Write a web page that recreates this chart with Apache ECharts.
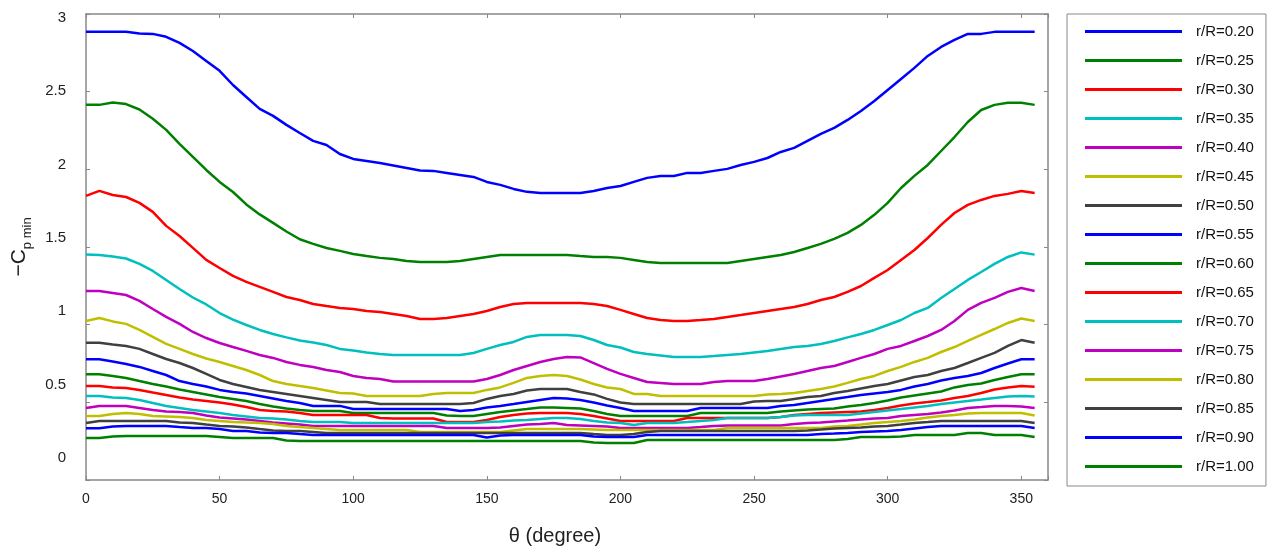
<!DOCTYPE html>
<html>
<head>
<meta charset="utf-8">
<script src="https://cdn.jsdelivr.net/npm/echarts@6/dist/echarts.min.js"></script>
<style>
  html, body { margin: 0; padding: 0; background: #fff; }
  #chart { width: 1277px; height: 549px; }
</style>
</head>
<body>
<div id="chart"></div>
<script>
// Azimuthal positions (degrees)
const theta = [0,5,10,15,20,25,30,35,40,45,50,55,60,65,70,75,80,85,90,95,100,105,110,115,120,125,130,135,140,145,150,155,160,165,170,175,180,185,190,195,200,205,210,215,220,225,230,235,240,245,250,255,260,265,270,275,280,285,290,295,300,305,310,315,320,325,330,335,340,345,350,355];

// Radial stations
const stations = ['r/R=0.20','r/R=0.25','r/R=0.30','r/R=0.35','r/R=0.40','r/R=0.45','r/R=0.50','r/R=0.55','r/R=0.60','r/R=0.65','r/R=0.70','r/R=0.75','r/R=0.80','r/R=0.85','r/R=0.90','r/R=1.00'];

// -Cp,min at each azimuth, one array per station
const cp020 = [2.885,2.885,2.885,2.885,2.875,2.872,2.853,2.814,2.762,2.698,2.634,2.543,2.466,2.389,2.344,2.286,2.234,2.183,2.157,2.099,2.067,2.054,2.041,2.025,2.009,1.993,1.990,1.977,1.964,1.951,1.919,1.900,1.874,1.855,1.848,1.848,1.848,1.848,1.861,1.880,1.893,1.919,1.945,1.957,1.957,1.977,1.977,1.990,2.003,2.028,2.048,2.073,2.112,2.138,2.183,2.228,2.267,2.318,2.376,2.440,2.511,2.582,2.653,2.730,2.788,2.833,2.872,2.872,2.885,2.885,2.885,2.885];
const cp025 = [2.415,2.415,2.43,2.42,2.385,2.326,2.254,2.164,2.08,1.996,1.919,1.854,1.774,1.71,1.655,1.6,1.55,1.52,1.494,1.475,1.455,1.442,1.43,1.423,1.41,1.404,1.404,1.404,1.41,1.423,1.436,1.449,1.449,1.449,1.449,1.449,1.449,1.442,1.436,1.436,1.43,1.417,1.404,1.397,1.397,1.397,1.397,1.397,1.397,1.41,1.423,1.436,1.449,1.468,1.494,1.52,1.552,1.591,1.642,1.707,1.784,1.88,1.958,2.028,2.118,2.208,2.305,2.382,2.415,2.428,2.428,2.415];
const cp030 = [1.829,1.861,1.835,1.822,1.784,1.726,1.636,1.571,1.494,1.417,1.365,1.314,1.275,1.243,1.211,1.178,1.159,1.133,1.120,1.108,1.101,1.088,1.082,1.069,1.056,1.037,1.037,1.043,1.056,1.069,1.088,1.114,1.133,1.140,1.140,1.140,1.140,1.140,1.133,1.120,1.095,1.069,1.043,1.030,1.024,1.024,1.030,1.037,1.05,1.062,1.075,1.088,1.101,1.114,1.133,1.159,1.178,1.211,1.249,1.301,1.352,1.417,1.481,1.558,1.642,1.719,1.771,1.803,1.829,1.842,1.861,1.848];
const cp035 = [1.451,1.449,1.439,1.426,1.391,1.346,1.288,1.23,1.175,1.13,1.075,1.033,0.998,0.966,0.94,0.918,0.898,0.885,0.869,0.844,0.834,0.821,0.811,0.805,0.805,0.805,0.805,0.805,0.805,0.818,0.844,0.869,0.889,0.921,0.934,0.934,0.934,0.927,0.901,0.869,0.853,0.824,0.811,0.802,0.792,0.792,0.792,0.798,0.805,0.811,0.821,0.831,0.844,0.856,0.863,0.876,0.895,0.918,0.94,0.966,0.998,1.03,1.075,1.108,1.172,1.23,1.288,1.339,1.391,1.436,1.465,1.451];
const cp040 = [1.217,1.217,1.204,1.191,1.153,1.101,1.05,1.005,0.953,0.914,0.882,0.856,0.831,0.805,0.786,0.76,0.741,0.728,0.708,0.695,0.67,0.657,0.65,0.634,0.634,0.634,0.634,0.634,0.634,0.634,0.65,0.676,0.708,0.734,0.76,0.779,0.792,0.789,0.753,0.715,0.683,0.657,0.631,0.625,0.618,0.618,0.618,0.631,0.637,0.637,0.637,0.65,0.666,0.683,0.702,0.721,0.734,0.76,0.786,0.811,0.844,0.863,0.895,0.927,0.966,1.024,1.095,1.14,1.172,1.211,1.236,1.217];
const cp045 = [1.024,1.043,1.021,1.005,0.966,0.921,0.876,0.844,0.811,0.782,0.76,0.734,0.708,0.676,0.637,0.618,0.605,0.592,0.576,0.56,0.557,0.541,0.541,0.541,0.541,0.541,0.554,0.56,0.56,0.56,0.58,0.596,0.625,0.657,0.67,0.676,0.67,0.647,0.618,0.596,0.586,0.554,0.554,0.541,0.541,0.541,0.541,0.541,0.541,0.541,0.541,0.551,0.554,0.56,0.573,0.586,0.602,0.625,0.65,0.67,0.702,0.728,0.76,0.786,0.824,0.856,0.895,0.934,0.972,1.011,1.04,1.024];
const cp050 = [0.884,0.884,0.873,0.863,0.844,0.811,0.779,0.753,0.721,0.683,0.644,0.618,0.599,0.58,0.567,0.554,0.541,0.528,0.515,0.502,0.502,0.502,0.489,0.489,0.489,0.489,0.489,0.489,0.489,0.496,0.522,0.541,0.554,0.576,0.586,0.586,0.586,0.567,0.551,0.522,0.499,0.489,0.489,0.489,0.489,0.489,0.489,0.489,0.489,0.489,0.505,0.509,0.509,0.522,0.534,0.541,0.56,0.573,0.589,0.605,0.618,0.641,0.663,0.676,0.702,0.721,0.753,0.786,0.818,0.863,0.901,0.884];
const cp055 = [0.777,0.777,0.763,0.747,0.728,0.702,0.676,0.637,0.618,0.602,0.58,0.567,0.557,0.541,0.525,0.509,0.496,0.477,0.477,0.477,0.457,0.457,0.457,0.457,0.457,0.457,0.457,0.457,0.444,0.451,0.467,0.477,0.489,0.502,0.515,0.528,0.525,0.515,0.499,0.48,0.464,0.444,0.444,0.444,0.444,0.444,0.464,0.464,0.464,0.464,0.464,0.464,0.477,0.483,0.496,0.509,0.522,0.534,0.547,0.557,0.567,0.58,0.602,0.618,0.641,0.657,0.67,0.689,0.721,0.75,0.777,0.777];
const cp060 = [0.681,0.681,0.67,0.657,0.637,0.618,0.602,0.583,0.567,0.551,0.534,0.522,0.509,0.489,0.473,0.46,0.451,0.444,0.444,0.444,0.431,0.431,0.431,0.431,0.431,0.431,0.431,0.415,0.412,0.412,0.425,0.438,0.448,0.457,0.467,0.467,0.464,0.46,0.444,0.425,0.412,0.412,0.412,0.412,0.412,0.412,0.431,0.431,0.431,0.431,0.431,0.431,0.441,0.448,0.454,0.457,0.46,0.473,0.483,0.496,0.512,0.531,0.544,0.557,0.57,0.596,0.612,0.621,0.644,0.663,0.681,0.681];
const cp065 = [0.605,0.605,0.596,0.592,0.58,0.563,0.547,0.531,0.518,0.509,0.499,0.486,0.47,0.451,0.444,0.441,0.431,0.419,0.419,0.419,0.419,0.419,0.399,0.396,0.396,0.396,0.396,0.373,0.373,0.373,0.386,0.406,0.419,0.428,0.431,0.431,0.431,0.425,0.412,0.396,0.38,0.38,0.38,0.38,0.38,0.399,0.399,0.399,0.399,0.399,0.399,0.399,0.406,0.419,0.425,0.431,0.435,0.438,0.441,0.451,0.464,0.48,0.493,0.502,0.512,0.528,0.541,0.56,0.583,0.596,0.605,0.601];
const cp070 = [0.541,0.541,0.531,0.528,0.515,0.496,0.477,0.464,0.451,0.441,0.431,0.419,0.409,0.399,0.396,0.39,0.38,0.373,0.373,0.373,0.367,0.367,0.367,0.367,0.367,0.367,0.367,0.367,0.367,0.367,0.373,0.377,0.383,0.386,0.393,0.399,0.399,0.393,0.38,0.37,0.367,0.354,0.367,0.367,0.367,0.373,0.38,0.386,0.399,0.399,0.399,0.399,0.406,0.415,0.419,0.419,0.419,0.419,0.428,0.438,0.448,0.457,0.467,0.477,0.489,0.499,0.509,0.518,0.528,0.538,0.541,0.538];
const cp075 = [0.464,0.477,0.477,0.477,0.464,0.451,0.441,0.438,0.431,0.415,0.402,0.396,0.39,0.38,0.37,0.364,0.357,0.348,0.348,0.348,0.348,0.348,0.348,0.348,0.348,0.348,0.348,0.335,0.335,0.335,0.335,0.338,0.348,0.357,0.361,0.367,0.354,0.351,0.348,0.344,0.335,0.335,0.335,0.335,0.335,0.335,0.341,0.348,0.351,0.351,0.351,0.351,0.351,0.361,0.367,0.37,0.377,0.383,0.39,0.396,0.399,0.412,0.419,0.425,0.435,0.448,0.464,0.47,0.477,0.477,0.473,0.464];
const cp080 = [0.412,0.412,0.425,0.431,0.425,0.412,0.409,0.406,0.399,0.386,0.38,0.373,0.37,0.367,0.361,0.348,0.341,0.335,0.328,0.322,0.322,0.322,0.322,0.322,0.322,0.309,0.309,0.309,0.309,0.309,0.309,0.309,0.319,0.328,0.328,0.328,0.328,0.328,0.325,0.322,0.322,0.322,0.322,0.322,0.322,0.322,0.322,0.322,0.335,0.335,0.335,0.335,0.335,0.335,0.335,0.335,0.344,0.348,0.357,0.367,0.373,0.38,0.39,0.402,0.412,0.419,0.428,0.431,0.431,0.431,0.431,0.415];
const cp085 = [0.367,0.38,0.38,0.38,0.38,0.38,0.38,0.37,0.367,0.357,0.348,0.344,0.338,0.328,0.319,0.315,0.315,0.309,0.303,0.303,0.303,0.303,0.303,0.303,0.303,0.303,0.303,0.303,0.303,0.303,0.303,0.303,0.303,0.303,0.303,0.303,0.303,0.303,0.296,0.29,0.29,0.296,0.309,0.315,0.315,0.315,0.315,0.315,0.315,0.315,0.315,0.315,0.315,0.315,0.319,0.325,0.332,0.335,0.338,0.344,0.348,0.357,0.367,0.373,0.38,0.38,0.38,0.38,0.38,0.38,0.38,0.367];
const cp090 = [0.333,0.333,0.344,0.348,0.348,0.348,0.348,0.341,0.335,0.335,0.328,0.315,0.315,0.306,0.303,0.303,0.296,0.29,0.29,0.29,0.29,0.29,0.29,0.29,0.29,0.29,0.29,0.29,0.29,0.29,0.274,0.287,0.29,0.29,0.29,0.29,0.29,0.29,0.28,0.277,0.277,0.277,0.29,0.29,0.29,0.29,0.29,0.29,0.29,0.29,0.29,0.29,0.29,0.29,0.29,0.296,0.299,0.303,0.309,0.312,0.315,0.322,0.332,0.341,0.348,0.348,0.348,0.348,0.348,0.348,0.348,0.335];
const cp100 = [0.27,0.27,0.28,0.283,0.283,0.283,0.283,0.283,0.283,0.283,0.277,0.27,0.27,0.27,0.27,0.254,0.251,0.251,0.251,0.251,0.251,0.251,0.251,0.251,0.251,0.251,0.251,0.251,0.251,0.251,0.251,0.251,0.251,0.251,0.251,0.251,0.251,0.251,0.241,0.238,0.238,0.238,0.258,0.258,0.258,0.258,0.258,0.258,0.258,0.258,0.258,0.258,0.258,0.258,0.258,0.258,0.258,0.264,0.277,0.277,0.277,0.28,0.29,0.29,0.29,0.29,0.303,0.303,0.29,0.29,0.29,0.277];

const curves = [cp020,cp025,cp030,cp035,cp040,cp045,cp050,cp055,cp060,cp065,cp070,cp075,cp080,cp085,cp090,cp100];

// Axis tick labels
const xTicks = [0,50,100,150,200,250,300,350];
const yTicks = [0,0.5,1,1.5,2,2.5,3];

// Line colour cycle (b, g, r, c, m, y, k)
const palette = ['#0000ff','#008000','#ff0000','#00bfbf','#bf00bf','#bfbf00','#404040'];

const axisGray = '#888888';
const font = 'Liberation Sans, Arial, sans-serif';

const series = stations.map((name, i) => ({
  name: name,
  type: 'line',
  xAxisIndex: 0,
  yAxisIndex: 0,
  showSymbol: false,
  symbol: 'none',
  data: theta.map((t, k) => [t, curves[i][k]]),
  lineStyle: { width: 2.5, color: palette[i % palette.length] },
  itemStyle: { color: palette[i % palette.length] },
  emphasis: { disabled: true }
}));

// Shared style for the four sides of the axes box
const boxAxis = () => ({
  axisLine: { show: true, onZero: false, lineStyle: { color: axisGray, width: 1.5 } },
  axisTick: { show: true, inside: true, length: 4, lineStyle: { color: axisGray, width: 1 } },
  splitLine: { show: false }
});

const chart = echarts.init(document.getElementById('chart'), null, { renderer: 'canvas' });
chart.setOption({
  animation: false,
  backgroundColor: '#ffffff',
  textStyle: { fontFamily: font },
  grid: { left: 86, right: 229, top: 14, bottom: 69, containLabel: false, outerBoundsMode: 'none' },
  xAxis: [
    Object.assign({
      type: 'value', position: 'bottom', min: 0, max: 360, interval: 50,
      name: 'θ (degree)', nameLocation: 'middle', nameGap: 46,
      nameTextStyle: { fontSize: 20, color: '#222', fontFamily: font, padding: [0, 24, 0, 0] },
      axisLabel: {
        show: true, margin: 12, fontSize: 14, color: '#222', fontFamily: font,
        formatter: v => (xTicks.indexOf(v) >= 0 ? String(v) : '')
      }
    }, boxAxis()),
    Object.assign({
      type: 'value', position: 'top', min: 0, max: 360, interval: 50,
      axisLabel: { show: false }
    }, boxAxis())
  ],
  yAxis: [
    Object.assign({
      type: 'value', position: 'left', min: 0, max: 3, interval: 0.5,
      axisLabel: { show: false }
    }, boxAxis()),
    Object.assign({
      type: 'value', position: 'right', min: 0, max: 3, interval: 0.5,
      axisLabel: { show: false }
    }, boxAxis()),
    {
      // label-only axis carrying the tick text and axis title
      type: 'value', position: 'left', min: -0.15, max: 3.027,
      minInterval: 0.5, maxInterval: 0.5,
      axisLine: { show: false, onZero: false }, axisTick: { show: false }, splitLine: { show: false },
      axisLabel: {
        show: true, margin: 20, fontSize: 15, color: '#222', fontFamily: font,
        formatter: v => {
          const hit = yTicks.find(t => Math.abs(t - v) < 1e-6);
          return hit === undefined ? '' : String(hit);
        }
      },
      name: '{m|−C}{s|p min}', nameLocation: 'middle', nameRotate: 90, nameGap: 42,
      nameTextStyle: {
        color: '#222', fontFamily: font,
        rich: {
          m: { fontSize: 21, lineHeight: 30, color: '#222', fontFamily: font },
          s: { fontSize: 13, lineHeight: 30, verticalAlign: 'bottom', color: '#222', fontFamily: font }
        }
      }
    }
  ],
  legend: {
    show: true, orient: 'vertical', left: 1067, top: 14,
    padding: [3, 12, 5, 18],
    itemWidth: 97, itemHeight: 3, itemGap: 0, icon: 'rect',
    borderColor: axisGray, borderWidth: 1, backgroundColor: '#fff',
    selectedMode: false,
    textStyle: { fontSize: 15, lineHeight: 29, color: '#111', fontFamily: font, padding: [0, 0, 0, 9] },
    data: stations
  },
  series: series
});
</script>
</body>
</html>
